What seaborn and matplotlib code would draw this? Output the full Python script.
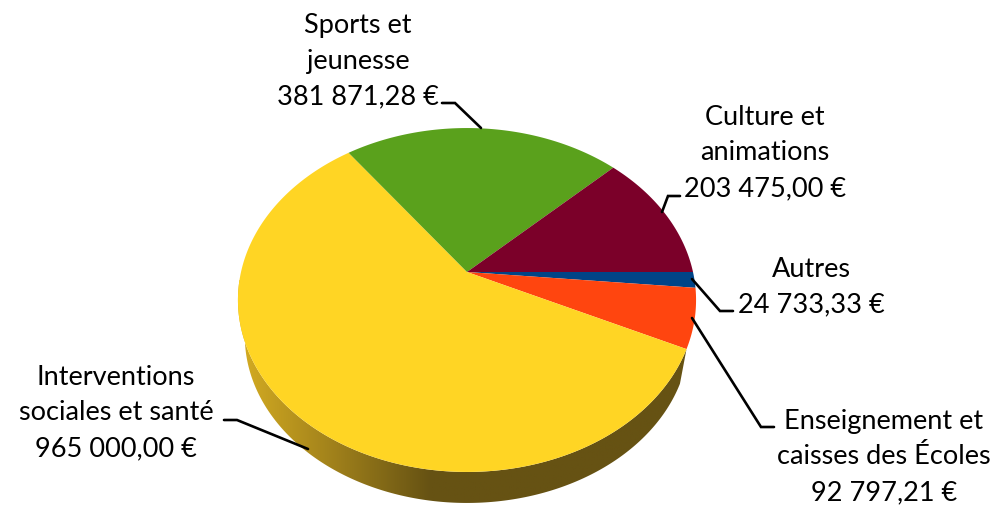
import matplotlib
matplotlib.use('Agg')
import matplotlib.pyplot as plt
import numpy as np
import seaborn as sns
from matplotlib.colors import LinearSegmentedColormap
from matplotlib.patches import Polygon

# clockwise from the east side of the pie
categories = ['Autres', 'Enseignement et\ncaisses des Écoles', 'Interventions\nsociales et santé',
              'Sports et\njeunesse', 'Culture et\nanimations']
amounts = [24733.33, 92797.21, 965000.00, 381871.28, 203475.00]
amount_labels = ['24 733,33 €', '92 797,21 €', '965 000,00 €', '381 871,28 €', '203 475,00 €']
colors = ['#004487', '#ff450f', '#ffd524', '#5aa11c', '#7b0029']

label_pos = [(811, 287), (884, 457), (116, 413), (358, 61), (765, 153)]
leaders = [
    [(733, 311), (720, 311), (692, 279)],
    [(774, 427), (761, 427), (692, 318)],
    [(224, 420), (237, 420), (308, 449)],
    [(442, 103), (455, 103), (481, 128)],
    [(680, 196), (668, 196), (662, 212)],
]

# tilted disc as the reference shows it, in pixels
CX, CY = 467, 272
RX, RY = 226, 167.4
PERSP = 0.1628


def project(theta_deg):
    t = np.radians(theta_deg)
    x, y = np.cos(t), -np.sin(t)
    return CX + RX * x / (1 - PERSP * y), CY + RY * y / (1 - PERSP * y)


sns.set_theme(style='white')
plt.rcParams['font.family'] = ['Lato', 'DejaVu Sans']

fig = plt.figure(figsize=(9.96, 5.05), dpi=100)
ax = fig.add_axes([0, 0, 1, 1])
wedges, _ = ax.pie(amounts, colors=sns.color_palette(colors), startangle=0, counterclock=False)
ax.set_aspect('auto')
ax.set_xlim(0, 996)
ax.set_ylim(505, 0)
ax.set_axis_off()

# side wall under the big slice
big = wedges[2]
angles = np.linspace(big.theta2, big.theta1, 300)
rim_x, rim_y = project(angles)
low_x = CX + (rim_x - CX) * 0.97
low_y = CY + (rim_y - CY) * 0.97 + 37
wall = Polygon(np.r_[np.c_[rim_x, rim_y], np.c_[low_x, low_y][::-1]], closed=True,
               facecolor='none', edgecolor='none')
ax.add_patch(wall)
wall_cmap = LinearSegmentedColormap.from_list(
    'wall', [(0, '#d6ad22'), (0.18, '#a8871c'), (0.42, '#665213'), (1, '#665213')])
grad = ax.imshow(np.linspace(0, 1, 256)[None, :], cmap=wall_cmap, extent=(237, 697, 510, 280),
                 aspect='auto', zorder=1)
grad.set_clip_path(wall)

# top of the pie, slices taken from the wedge angles
for wedge in wedges:
    th = np.linspace(wedge.theta1, wedge.theta2, 200)
    xs, ys = project(th)
    pts = np.r_[[[CX, CY]], np.c_[xs, ys]]
    ax.add_patch(Polygon(pts, closed=True, facecolor=wedge.get_facecolor(), edgecolor='none', zorder=2))
    wedge.remove()

ax.set_xlim(0, 996)
ax.set_ylim(505, 0)

for cat, amt, pos, line in zip(categories, amount_labels, label_pos, leaders):
    ax.text(pos[0], pos[1], f'{cat}\n{amt}', ha='center', va='center', fontsize=19.5,
            color='black', linespacing=1.54, zorder=4)
    ax.plot(*zip(*line), color='black', lw=1.9, solid_joinstyle='miter', zorder=3)

fig.savefig('out.png', dpi=100)
